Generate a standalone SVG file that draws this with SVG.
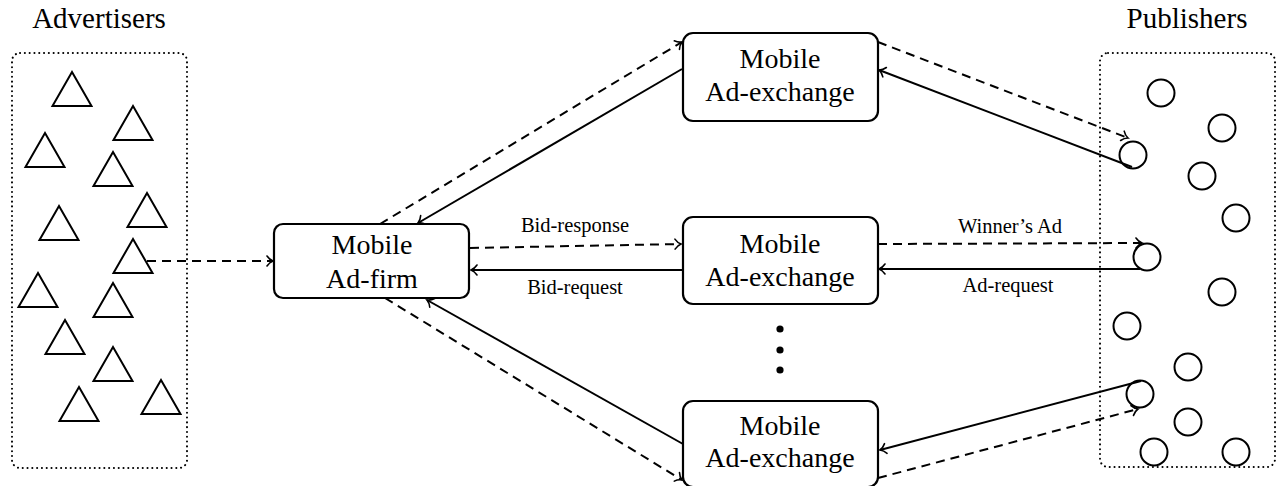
<svg xmlns="http://www.w3.org/2000/svg" width="1278" height="486" viewBox="0 0 1278 486">
<style>
  .box { fill: #fff; stroke: #000; stroke-width: 2.2; }
  .group { fill: none; stroke: #000; stroke-width: 2; stroke-dasharray: 0.1 4.7; stroke-linecap: round; }
  .tri, .circ { fill: none; stroke: #000; stroke-width: 2; }
  .txt { font-family: "Liberation Serif", "Times New Roman", serif; font-size: 28px; text-anchor: middle; fill: #000; }
  .title { font-family: "Liberation Serif", "Times New Roman", serif; font-size: 29px; text-anchor: middle; fill: #000; }
  .lbl { font-family: "Liberation Serif", "Times New Roman", serif; font-size: 20.5px; text-anchor: middle; fill: #000; }
  .solid { fill: none; stroke: #000; stroke-width: 2; marker-end: url(#arr); }
  .dash { fill: none; stroke: #000; stroke-width: 2; stroke-dasharray: 9 6; marker-end: url(#arr); }
  .head { fill: none; stroke: #000; stroke-width: 1.6; stroke-dasharray: none; stroke-linecap: round; }
</style>
<defs>
  <marker id="arr" markerUnits="userSpaceOnUse" markerWidth="14" markerHeight="14" viewBox="-8 -7 10 14" refX="0" refY="0" orient="auto" overflow="visible">
    <path class="head" d="M -6,-5 C -4,-2 -1.5,-0.6 0,0 C -1.5,0.6 -4,2 -6,5"/>
  </marker>
  <polygon id="tri" points="0,0 19.5,34 -19.5,34"/>
  <circle id="circ" r="13.5"/>
</defs>

<text class="title" x="99" y="28">Advertisers</text>
<text class="title" x="1187" y="28">Publishers</text>

<g id="advertisers">
  <rect class="group" x="12" y="53" width="175" height="415" rx="8"/>
  <g class="tri">
    <use href="#tri" x="72" y="72"/>
    <use href="#tri" x="133" y="106"/>
    <use href="#tri" x="45" y="133"/>
    <use href="#tri" x="113" y="152"/>
    <use href="#tri" x="147" y="193"/>
    <use href="#tri" x="59" y="206"/>
    <use href="#tri" x="133" y="239"/>
    <use href="#tri" x="38" y="273"/>
    <use href="#tri" x="113" y="283"/>
    <use href="#tri" x="65" y="320"/>
    <use href="#tri" x="113" y="347"/>
    <use href="#tri" x="79" y="387"/>
    <use href="#tri" x="161" y="380"/>
  </g>
</g>

<g id="publishers">
  <rect class="group" x="1100" y="53" width="175" height="414" rx="8"/>
  <g class="circ">
    <use href="#circ" x="1161" y="93"/>
    <use href="#circ" x="1222" y="128"/>
    <use href="#circ" x="1133" y="155"/>
    <use href="#circ" x="1202" y="176"/>
    <use href="#circ" x="1236" y="218"/>
    <use href="#circ" x="1147" y="257"/>
    <use href="#circ" x="1222" y="292"/>
    <use href="#circ" x="1127" y="326"/>
    <use href="#circ" x="1188" y="367"/>
    <use href="#circ" x="1140" y="394"/>
    <use href="#circ" x="1188" y="422"/>
    <use href="#circ" x="1154" y="452"/>
    <use href="#circ" x="1236" y="452"/>
  </g>
</g>

<g id="connectors">
  <path class="dash" d="M147,261 L273,261"/>
  <path class="dash" d="M380,224 L682,42"/>
  <path class="solid" d="M682,69 L418,223"/>
  <path class="dash" d="M470,248 L681,244"/>
  <path class="solid" d="M683,270 L471,270"/>
  <path class="dash" d="M385,298 L682,480"/>
  <path class="solid" d="M683,444 L427,300"/>
  <path class="dash" d="M878,42 L1128,138"/>
  <path class="solid" d="M1132,167 L879,70"/>
  <path class="dash" d="M878,244 L1142,243"/>
  <path class="solid" d="M1140,269 L879,269"/>
  <path class="solid" d="M1141,381 L880,450"/>
  <path class="dash" d="M878,478 L1138,409"/>
  <text class="lbl" x="575" y="232">Bid-response</text>
  <text class="lbl" x="575" y="294">Bid-request</text>
  <text class="lbl" x="1010" y="233">Winner’s Ad</text>
  <text class="lbl" x="1008" y="292">Ad-request</text>
</g>

<g id="adfirm">
  <rect class="box" x="274" y="224" width="195" height="74" rx="9"/>
  <text class="txt" x="372" y="254">Mobile</text>
  <text class="txt" x="372" y="288">Ad-firm</text>
</g>

<g id="exchange-top">
  <rect class="box" x="683" y="33" width="195" height="88" rx="10"/>
  <text class="txt" x="780" y="68">Mobile</text>
  <text class="txt" x="780" y="101">Ad-exchange</text>
</g>

<g id="exchange-mid">
  <rect class="box" x="683" y="217" width="195" height="87" rx="10"/>
  <text class="txt" x="780" y="253">Mobile</text>
  <text class="txt" x="780" y="286">Ad-exchange</text>
</g>

<g id="ellipsis">
  <circle cx="780" cy="329" r="3.6" fill="#000"/>
  <circle cx="780" cy="350" r="3.6" fill="#000"/>
  <circle cx="780" cy="370" r="3.6" fill="#000"/>
</g>

<g id="exchange-bot">
  <rect class="box" x="683" y="401" width="195" height="86" rx="10"/>
  <text class="txt" x="780" y="435">Mobile</text>
  <text class="txt" x="780" y="467">Ad-exchange</text>
</g>
</svg>
